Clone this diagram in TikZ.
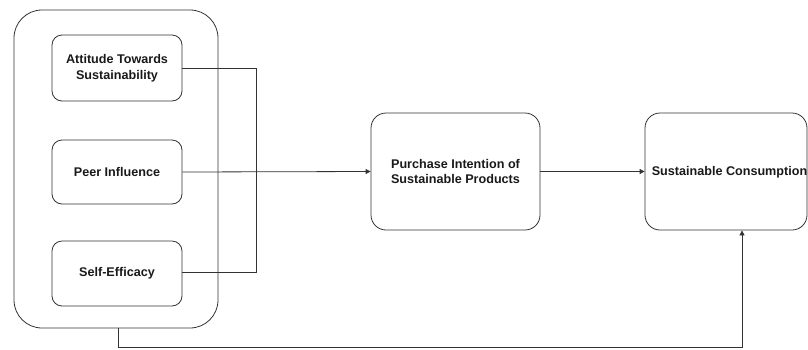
\documentclass[tikz,border=0pt]{standalone}
\usepackage{fontspec}
\setmainfont{Liberation Sans}
\usetikzlibrary{arrows.meta}
\definecolor{ln}{HTML}{333333}
\begin{document}
\begin{tikzpicture}[x=1pt,y=-1pt,
  txt/.style={font=\fontsize{12.6}{15.5}\selectfont\bfseries,text=black!90},
  box/.style={draw=ln,line width=0.8pt,rounded corners=10pt,align=center,
    txt,inner sep=0pt},
  conn/.style={draw=ln,line width=0.8pt},
  arr/.style={conn,-{Triangle[length=5pt,width=5pt]}}]
\useasboundingbox (0,0) rectangle (808,349);
\node[box,rounded corners=28pt,minimum width=204pt,minimum height=318pt] (grp) at (116,169) {};
\node[box,minimum width=130pt,minimum height=66pt] (att) at (117,68) {Attitude Towards\\Sustainability};
\node[box,minimum width=130pt,minimum height=64pt] (peer) at (117,172) {Peer Influence};
\node[box,minimum width=130pt,minimum height=65pt] (self) at (117,273.5) {Self-Efficacy};
\node[box,rounded corners=15pt,minimum width=169pt,minimum height=117pt] (pur) at (455.5,171.5) {Purchase Intention of\\Sustainable Products};
\node[box,rounded corners=15pt,minimum width=162pt,minimum height=117pt] (sc) at (726,171.5) {};
\node[txt,inner sep=0pt] (sct) at (729.5,172) {Sustainable Consumption};
\coordinate (m1) at (256,68);
\coordinate (m2) at (256,272);
\draw[conn] (att.east) -- (m1) -- (m2) -- (self.east |- m2);
\draw[arr] (peer.east) -- (pur.west);
\draw[arr] (pur.east) -- (sc.west);
\coordinate (b1) at (118,347);
\draw[arr] (grp.south -| b1) -- (b1) -| ([xshift=16pt]sc.south);
\end{tikzpicture}
\end{document}
